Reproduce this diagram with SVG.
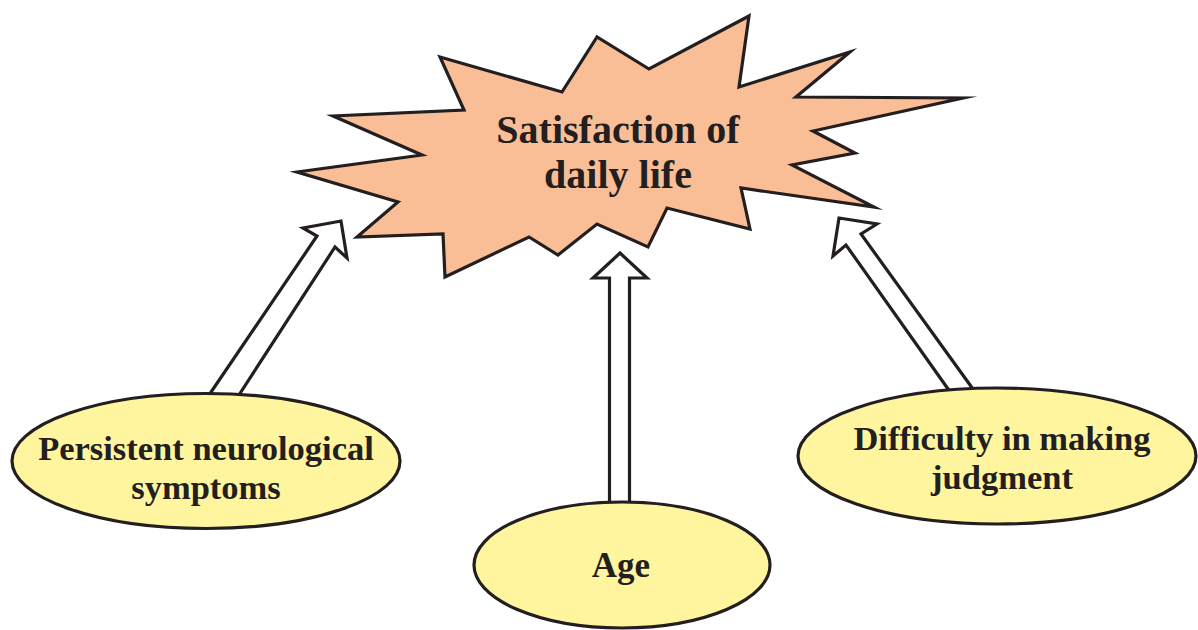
<svg xmlns="http://www.w3.org/2000/svg" width="1198" height="630" viewBox="0 0 1198 630">
<style>
.ln{stroke:#231F20;stroke-width:3.2;stroke-linejoin:miter;stroke-miterlimit:10}
.arrow{fill:#FFFFFF}
.oval{fill:#FFF59E}
.burst{fill:#F9BE96}
.t{font-family:"Liberation Serif","Times New Roman",serif;font-weight:bold;fill:#231F20;text-anchor:middle}
</style>
<rect width="1198" height="630" fill="#FFFFFF"/>
<g id="connectors">
<polygon class="ln arrow" points="207,398 317,236 303,228 341,221 347,258 335,247 237,398"/>
<polygon class="ln arrow" points="609.5,510 609.5,278 593,278 620,253 647,278 629.5,278 629.5,510"/>
<polygon class="ln arrow" points="953,396 846,245 833,256 839,218 877,224 861,234 978,396"/>
</g>
<g id="node-satisfaction">
<polygon class="ln burst" points="440,57 562,92 597,37 649,69 749,16 739,87 850,52 796,97 963,98 813,131 855,153 792,165 874,207 741,188 750,229 667,208 648,247 597,224 558,255 529,237 445,277 443,234 357,237 398,202 297,172 422,155 333,116 464,110"/>
<text class="t" x="618" y="143" font-size="40">Satisfaction of</text>
<text class="t" x="618" y="188" font-size="40">daily life</text>
</g>
<g id="node-persistent">
<ellipse class="ln oval" cx="206" cy="461" rx="194" ry="67.5"/>
<text class="t" x="206" y="460" font-size="34.5">Persistent neurological</text>
<text class="t" x="206" y="498.5" font-size="34.5">symptoms</text>
</g>
<g id="node-age">
<ellipse class="ln oval" cx="622" cy="565" rx="148" ry="63"/>
<text class="t" x="621" y="577" font-size="35">Age</text>
</g>
<g id="node-difficulty">
<ellipse class="ln oval" cx="997" cy="456" rx="199" ry="68"/>
<text class="t" x="1002" y="450" font-size="34.5">Difficulty in making</text>
<text class="t" x="1002" y="488.5" font-size="34.5">judgment</text>
</g>
</svg>
